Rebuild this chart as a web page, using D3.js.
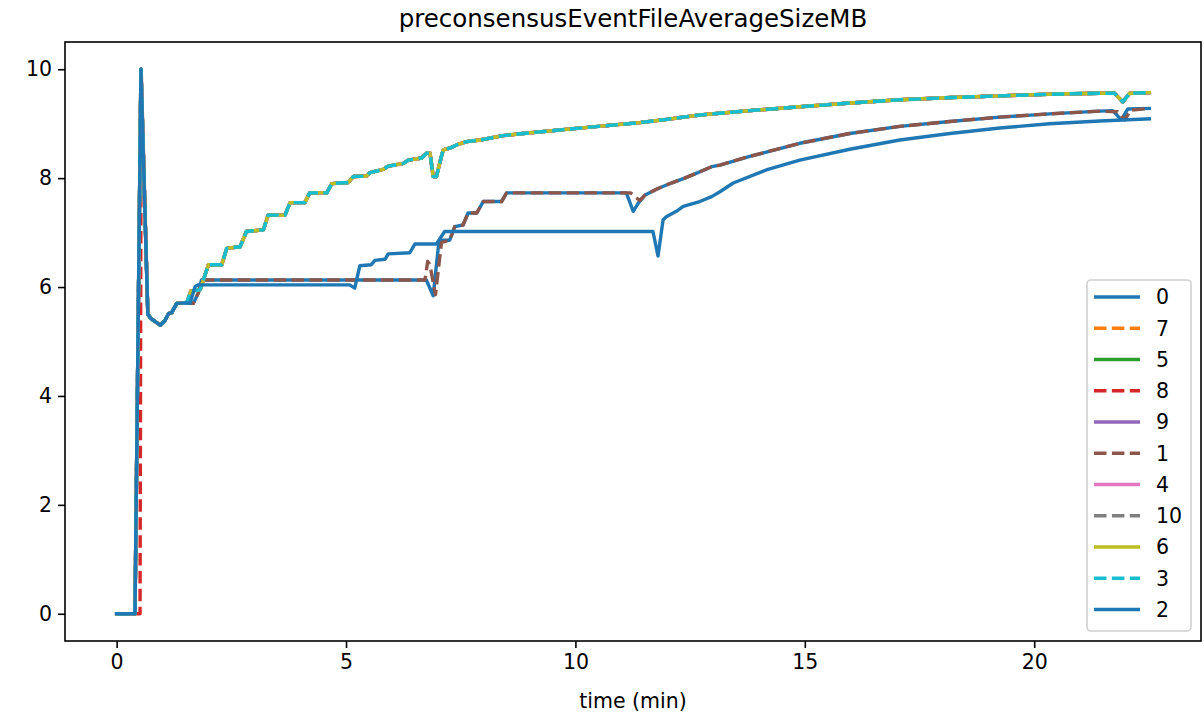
<!DOCTYPE html>
<html>
<head>
<meta charset="utf-8">
<script src="https://cdn.jsdelivr.net/npm/d3@7"></script>
<style>
  html, body { margin: 0; padding: 0; background: #fff; }
  svg { display: block; font-family: "DejaVu Sans", sans-serif; }
</style>
</head>
<body>
<svg id="chart" width="1204" height="716"></svg>
<script>
// ---------------- data ----------------
const chartTitle = "preconsensusEventFileAverageSizeMB";
const xLabel = "time (min)";
const xTicks = [0, 5, 10, 15, 20];
const yTicks = [0, 2, 4, 6, 8, 10];
const seriesNames = ["0", "7", "5", "8", "9", "1", "4", "10", "6", "3", "2"];

// upper group (7, 5, 9, 4, 10, 6, 3)
const upperT = [0, 0.4, 0.53, 0.68, 0.75, 0.85, 0.95, 1.05, 1.13, 1.2, 1.31, 1.53,
  1.62, 1.82, 1.95, 2.0, 2.29, 2.4, 2.69, 2.83, 3.2, 3.3, 3.67, 3.78, 4.1, 4.21, 4.58,
  4.69, 5.05, 5.16, 5.45, 5.52, 5.81, 5.92, 6.25, 6.36, 6.65, 6.76, 6.83, 6.9, 6.97,
  7.08, 7.12, 7.26, 7.41, 7.63, 7.92, 8.42, 8.86, 9.73, 10.5, 11.4, 12.0, 12.71, 13.8,
  14.89, 16.0, 17.07, 18.2, 19.25, 20.3, 21.43, 21.75, 21.93, 22.08, 22.51];
const upperV = [0, 0, 10, 5.5, 5.42, 5.36, 5.30, 5.38, 5.51, 5.53, 5.70, 5.71,
  5.93, 5.95, 6.28, 6.41, 6.41, 6.71, 6.74, 7.02, 7.05, 7.32, 7.32, 7.55, 7.55, 7.73, 7.73,
  7.90, 7.92, 8.03, 8.04, 8.10, 8.16, 8.22, 8.27, 8.33, 8.37, 8.46, 8.46, 8.03, 8.03,
  8.40, 8.52, 8.55, 8.61, 8.67, 8.70, 8.78, 8.82, 8.89, 8.95, 9.02, 9.08, 9.16, 9.24,
  9.31, 9.38, 9.44, 9.48, 9.51, 9.54, 9.56, 9.56, 9.40, 9.56, 9.57];

// series 8 (starts rising a little later)
const s8T = [0, 0.51, 0.535, 0.68, 0.75, 0.85, 0.95, 1.05, 1.13, 1.2, 1.31, 1.53,
  1.62, 1.82, 1.95, 2.0, 2.29, 2.4, 2.69, 2.83, 3.2, 3.3, 3.67, 3.78, 4.1, 4.21, 4.58,
  4.69, 5.05, 5.16, 5.45, 5.52, 5.81, 5.92, 6.25, 6.36, 6.65, 6.76, 6.83, 6.9, 6.97,
  7.08, 7.12, 7.26, 7.41, 7.63, 7.92, 8.42, 8.86, 9.73, 10.5, 11.4, 12.0, 12.71, 13.8,
  14.89, 16.0, 17.07, 18.2, 19.25, 20.3, 21.43, 21.75, 21.93, 22.08, 22.51];
const s8V = [0, 0, 10, 5.5, 5.42, 5.36, 5.30, 5.38, 5.51, 5.53, 5.70, 5.71,
  5.93, 5.95, 6.28, 6.41, 6.41, 6.71, 6.74, 7.02, 7.05, 7.32, 7.32, 7.55, 7.55, 7.73, 7.73,
  7.90, 7.92, 8.03, 8.04, 8.10, 8.16, 8.22, 8.27, 8.33, 8.37, 8.46, 8.46, 8.03, 8.03,
  8.40, 8.52, 8.55, 8.61, 8.67, 8.70, 8.78, 8.82, 8.89, 8.95, 9.02, 9.08, 9.16, 9.24,
  9.31, 9.38, 9.44, 9.48, 9.51, 9.54, 9.56, 9.56, 9.40, 9.56, 9.57];

// series 0 (middle blue)
const s0T = [0, 0.4, 0.53, 0.68, 0.75, 0.85, 0.95, 1.05, 1.13, 1.2, 1.31, 1.53,
  1.67, 1.78, 1.85, 6.75, 6.9, 7.02, 7.05, 7.26, 7.37, 7.55, 7.66, 7.85, 7.99, 8.39,
  8.5, 11.11, 11.26, 11.37, 11.52, 11.8, 12.09, 12.38, 12.67, 12.97, 13.15, 13.8, 14.89,
  15.98, 17.07, 18.16, 19.25, 20.33, 21.43, 21.71, 21.9, 22.04, 22.51];
const s0V = [0, 0, 10, 5.5, 5.42, 5.36, 5.30, 5.38, 5.51, 5.53, 5.70, 5.71,
  5.70, 5.89, 6.13, 6.13, 5.84, 6.80, 6.86, 6.86, 7.11, 7.14, 7.36, 7.36, 7.57, 7.57,
  7.73, 7.73, 7.39, 7.54, 7.69, 7.81, 7.91, 8.00, 8.10, 8.21, 8.24, 8.40, 8.64,
  8.82, 8.95, 9.04, 9.12, 9.18, 9.23, 9.24, 9.07, 9.27, 9.28];

// series 1 (brown dashed)
const s1T = [0, 0.4, 0.53, 0.68, 0.75, 0.85, 0.95, 1.05, 1.13, 1.2, 1.31, 1.53,
  1.67, 1.78, 1.85, 6.72, 6.78, 6.83, 6.95, 7.08, 7.26, 7.37, 7.55, 7.66, 7.85, 7.99, 8.39,
  8.5, 11.2, 11.4, 11.52, 11.8, 12.09, 12.38, 12.67, 12.97, 13.15, 13.8, 14.89,
  15.98, 17.07, 18.16, 19.25, 20.33, 21.43, 21.82, 21.97, 22.11, 22.51];
const s1V = [0, 0, 10, 5.5, 5.42, 5.36, 5.30, 5.38, 5.51, 5.53, 5.70, 5.71,
  5.70, 5.89, 6.13, 6.13, 6.47, 6.40, 5.86, 6.82, 6.86, 7.11, 7.14, 7.36, 7.36, 7.57, 7.57,
  7.73, 7.73, 7.59, 7.69, 7.81, 7.91, 8.00, 8.10, 8.21, 8.24, 8.40, 8.64,
  8.82, 8.95, 9.04, 9.12, 9.18, 9.23, 9.22, 9.07, 9.25, 9.28];

// series 2 (lower blue)
const s2T = [0, 0.4, 0.53, 0.68, 0.75, 0.85, 0.95, 1.05, 1.13, 1.2, 1.31, 1.53,
  1.6, 1.71, 1.78, 5.08, 5.19, 5.3, 5.55, 5.63, 5.85, 5.92, 6.39, 6.5, 6.97, 7.15,
  11.69, 11.8, 11.91, 11.98, 12.2, 12.35, 12.71, 12.97, 13.15, 13.44, 14.16, 14.89,
  15.98, 17.07, 18.16, 19.25, 20.33, 21.43, 22.51];
const s2V = [0, 0, 10, 5.5, 5.42, 5.36, 5.30, 5.38, 5.51, 5.53, 5.70, 5.71,
  5.70, 6.01, 6.04, 6.04, 5.98, 6.39, 6.41, 6.49, 6.51, 6.61, 6.63, 6.79, 6.79, 7.02,
  7.02, 6.57, 7.23, 7.29, 7.39, 7.48, 7.57, 7.66, 7.75, 7.91, 8.15, 8.33,
  8.53, 8.70, 8.82, 8.92, 9.00, 9.05, 9.09];

const seriesT = { "0": s0T, "7": upperT, "5": upperT, "8": s8T, "9": upperT, "1": s1T,
  "4": upperT, "10": upperT, "6": upperT, "3": upperT, "2": s2T };
const seriesV = { "0": s0V, "7": upperV, "5": upperV, "8": s8V, "9": upperV, "1": s1V,
  "4": upperV, "10": upperV, "6": upperV, "3": upperV, "2": s2V };

// ---------------- styles ----------------
const colors = ["#1f77b4", "#ff7f0e", "#2ca02c", "#d62728", "#9467bd", "#8c564b",
  "#e377c2", "#7f7f7f", "#bcbd22", "#17becf", "#1f77b4"];
const dashed = [false, true, false, true, false, true, false, true, false, true, false];

const W = 1204, H = 716;
const m = { left: 65, right: 1201, top: 42, bottom: 641 };
const svg = d3.select("#chart");

const xMin = 0, xMax = d3.max(Object.values(seriesT), a => d3.max(a));
const xPad = (xMax - xMin) * 0.05;
const x = d3.scaleLinear().domain([xMin - xPad, xMax + xPad]).range([m.left, m.right]);
const y = d3.scaleLinear().domain([-0.5, 10.5]).range([m.bottom, m.top]);

svg.append("rect").attr("width", W).attr("height", H).attr("fill", "#fff");

svg.append("defs").append("clipPath").attr("id", "clip")
  .append("rect").attr("x", m.left).attr("y", m.top)
  .attr("width", m.right - m.left).attr("height", m.bottom - m.top);

const LW = 3.4;
const DASH = "12.5,5.4";
const line = d3.line().x(d => x(d[0])).y(d => y(d[1]));
const g = svg.append("g").attr("clip-path", "url(#clip)");
seriesNames.forEach((name, i) => {
  const T = seriesT[name], V = seriesV[name];
  const pts = T.map((t, k) => [t, V[k]]);
  g.append("path").datum(pts)
    .attr("d", line)
    .attr("fill", "none")
    .attr("stroke", colors[i])
    .attr("stroke-width", LW)
    .attr("stroke-linejoin", "round")
    .attr("stroke-linecap", dashed[i] ? "butt" : "square")
    .attr("stroke-dasharray", dashed[i] ? DASH : null);
});

// axes
const fs = 20.5;
const xAxis = d3.axisBottom(x).tickValues(xTicks).tickSize(7).tickPadding(6).tickSizeOuter(0);
const yAxis = d3.axisLeft(y).tickValues(yTicks).tickSize(7).tickPadding(6).tickSizeOuter(0);
const gx = svg.append("g").attr("transform", `translate(0,${m.bottom})`).call(xAxis);
const gy = svg.append("g").attr("transform", `translate(${m.left},0)`).call(yAxis);
[gx, gy].forEach(a => {
  a.select(".domain").remove();
  a.selectAll(".tick line").attr("stroke", "#000").attr("stroke-width", 1.6);
  a.selectAll(".tick text").attr("fill", "#000").style("font-size", fs + "px")
    .style("font-family", "DejaVu Sans");
});

// spines
svg.append("rect").attr("x", m.left).attr("y", m.top)
  .attr("width", m.right - m.left).attr("height", m.bottom - m.top)
  .attr("fill", "none").attr("stroke", "#000").attr("stroke-width", 1.6);

// title and label
svg.append("text").attr("x", (m.left + m.right) / 2).attr("y", 27)
  .attr("text-anchor", "middle").style("font-size", "24.5px").text(chartTitle);
svg.append("text").attr("x", (m.left + m.right) / 2).attr("y", 708)
  .attr("text-anchor", "middle").style("font-size", fs + "px").text(xLabel);

// legend
const lg = svg.append("g");
const lx = 1087, ly = 280, lw = 104, lh = 351;
lg.append("rect").attr("x", lx).attr("y", ly).attr("width", lw).attr("height", lh)
  .attr("rx", 4).attr("fill", "#fff").attr("fill-opacity", 0.8)
  .attr("stroke", "#d0d0d0").attr("stroke-width", 1.6);
const rowY = d3.scaleLinear().domain([0, seriesNames.length - 1]).range([297, 609.5]);
seriesNames.forEach((name, i) => {
  const yy = rowY(i);
  lg.append("line").attr("x1", 1094).attr("x2", 1140).attr("y1", yy).attr("y2", yy)
    .attr("stroke", colors[i]).attr("stroke-width", LW)
    .attr("stroke-dasharray", dashed[i] ? DASH : null);
  lg.append("text").attr("x", 1156).attr("y", yy).attr("dy", "0.36em")
    .style("font-size", fs + "px").text(name);
});
</script>
</body>
</html>
